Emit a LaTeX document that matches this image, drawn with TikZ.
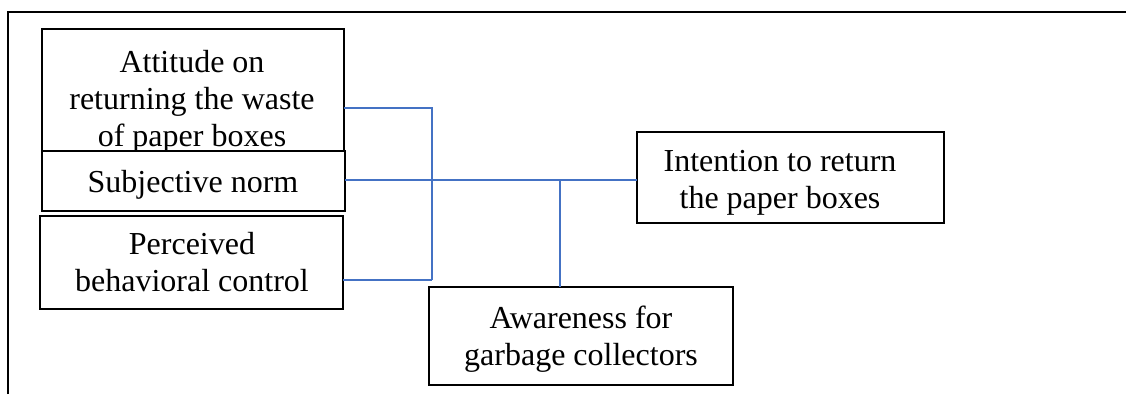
\documentclass[tikz,border=0pt]{standalone}
\usepackage{fontspec}
\setmainfont{Liberation Serif}
\definecolor{connblue}{RGB}{68,114,196}
\begin{document}
\begin{tikzpicture}[x=0.75pt,y=-0.75pt,
  box/.style={draw=black,line width=1.9pt,fill=white,inner sep=0pt,outer sep=0pt},
  txt/.style={inner sep=0pt,outer sep=0pt,align=center,font=\fontsize{24}{27.75}\selectfont},
  conn/.style={draw=connblue,line width=0.8pt},
  frame/.style={draw=black,line width=1.6pt}]
\useasboundingbox (0,0) rectangle (1126,394);
% frame
\coordinate (fl) at (8,394);
\coordinate (fc) at (8,12);
\coordinate (fr) at (1126,12);
\draw[frame] (fl) -- (fc) -- (fr);
% boxes
\node[box,minimum width=226.5pt,minimum height=91.5pt] (att) at (193,90) {};
\node[txt] (atttxt) at (192,101.5) {Attitude on\\returning the waste\\of paper boxes};
\node[box,minimum width=227.25pt,minimum height=45pt] (sub) at (193.5,181) {};
\node[txt] (subtxt) at (193,185) {Subjective norm};
\node[box,minimum width=227.25pt,minimum height=69.75pt] (per) at (191.5,262.5) {};
\node[txt] (pertxt) at (192,262.5) {Perceived\\behavioral control};
\node[box,minimum width=230.25pt,minimum height=68.25pt] (int) at (790.5,177.5) {};
\node[txt] (inttxt) at (780,183) {Intention to return\\the paper boxes};
\node[box,minimum width=228pt,minimum height=73.5pt] (awa) at (581,336) {};
\node[txt] (awatxt) at (581,339.5) {Awareness for\\garbage collectors};
% connectors
\coordinate (ya) at (0,108);
\coordinate (ys) at (0,180);
\coordinate (yp) at (0,280);
\coordinate (ja) at (432,108);
\coordinate (jp) at (432,280);
\coordinate (js) at (560,180);
\draw[conn] (att.east |- ya) -- (ja) -- (jp);
\draw[conn] (per.east |- yp) -- (jp);
\draw[conn] (sub.east |- ys) -- (int.west |- ys);
\draw[conn] (js) -- (js |- awa.north);
\end{tikzpicture}
\end{document}
